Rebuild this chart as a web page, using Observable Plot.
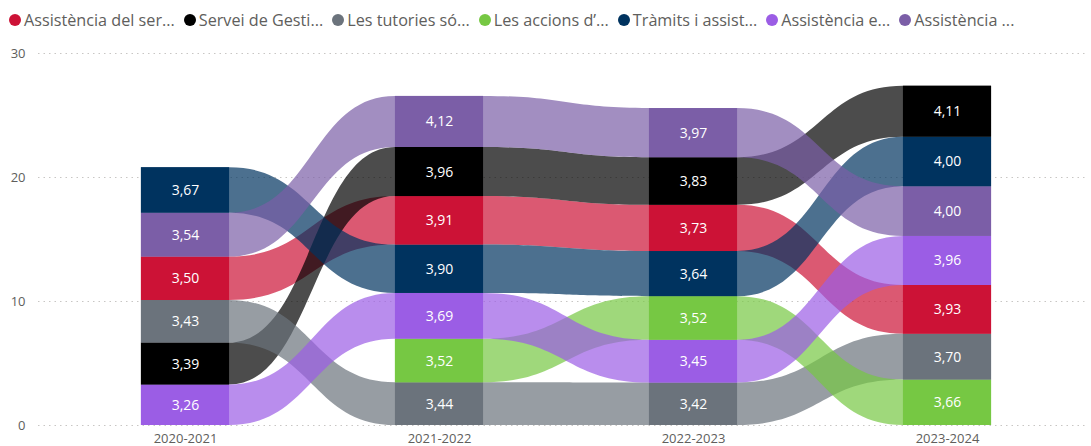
<!DOCTYPE html>
<html>
<head>
<meta charset="utf-8">
<script src="https://cdn.jsdelivr.net/npm/d3@7"></script>
<script src="https://cdn.jsdelivr.net/npm/@observablehq/plot@0.6"></script>
<style>
  html, body { margin: 0; padding: 0; background: #fff; }
  body { width: 1091px; height: 446px; overflow: hidden; font-family: "Segoe UI", "Open Sans", sans-serif; }
  #legend { height: 40px; display: flex; align-items: center; padding-left: 9px; box-sizing: border-box; font-size: 16.2px; color: #605E5C; white-space: nowrap; }
  .item { display: inline-flex; align-items: center; margin-right: 9px; }
  .dot { width: 12px; height: 12px; border-radius: 50%; margin-right: 3px; display: inline-block; }
</style>
</head>
<body>
<div id="legend"></div>
<div id="chart"></div>
<script>
const years = ["2020-2021", "2021-2022", "2022-2023", "2023-2024"];
const seriesNames = ["Assistència del ser...", "Servei de Gesti...", "Les tutories só...", "Les accions d’...", "Tràmits i assist...", "Assistència e...", "Assistència ..."];
const seriesColors = ["#CC1236", "#000000", "#6B737C", "#76C843", "#00335F", "#9B5DE5", "#7B5EA7"];
const assistenciaServei = [3.50, 3.91, 3.73, 3.93];
const serveiGestio = [3.39, 3.96, 3.83, 4.11];
const tutories = [3.43, 3.44, 3.42, 3.70];
const accions = [null, 3.52, 3.52, 3.66];
const tramits = [3.67, 3.90, 3.64, 4.00];
const assistenciaE = [3.26, 3.69, 3.45, 3.96];
const assistencia = [3.54, 4.12, 3.97, 4.00];
const seriesValues = [assistenciaServei, serveiGestio, tutories, accions, tramits, assistenciaE, assistencia];
const yTicks = [0, 10, 20, 30];

// legend
const legend = document.getElementById("legend");
seriesNames.forEach((n, i) => {
  const it = document.createElement("span");
  it.className = "item";
  it.innerHTML = `<span class="dot" style="background:${seriesColors[i]}"></span>${n}`;
  legend.appendChild(it);
});

// stacking: ascending by value, larger on top
const cells = [];
years.forEach((yr, xi) => {
  const present = seriesValues.map((v, si) => ({si, v: v[xi]})).filter(d => d.v != null);
  present.sort((a, b) => a.v - b.v || b.si - a.si);
  let acc = 0;
  present.forEach(d => {
    cells.push({xi, year: yr, si: d.si, name: seriesNames[d.si], v: d.v, y1: acc, y2: acc + d.v});
    acc += d.v;
  });
});

const half = 0.1735;
const ribbonPts = [];
cells.forEach(c => {
  ribbonPts.push({si: c.si, x: c.xi - half, y1: c.y1, y2: c.y2});
  ribbonPts.push({si: c.si, x: c.xi + half, y1: c.y1, y2: c.y2});
});
ribbonPts.sort((a, b) => a.si - b.si || a.x - b.x);

const x0 = -0.5787, x1 = 3.5433;
const chart = Plot.plot({
  width: 1091,
  height: 406,
  marginLeft: 38,
  marginRight: 6,
  marginTop: 13,
  marginBottom: 21,
  style: {fontFamily: "'Segoe UI', 'Open Sans', sans-serif", fontSize: "13px", color: "#605E5C", background: "#fff"},
  x: {domain: [x0, x1], axis: null},
  y: {domain: [0, 30], axis: null},
  color: {domain: d3.range(seriesNames.length), range: seriesColors},
  marks: [
    Plot.ruleY(yTicks, {stroke: "#C8C6C4", strokeDasharray: "1.5,4", strokeWidth: 1}),
    Plot.axisY({ticks: yTicks, tickSize: 0, tickPadding: 13, fontSize: 13, textAnchor: "end"}),
    Plot.axisX({ticks: [0, 1, 2, 3], tickFormat: i => years[i], tickSize: 0, tickPadding: 8, fontSize: 13, anchor: "bottom"}),
    Plot.areaY(ribbonPts, {x: "x", y1: "y1", y2: "y2", z: "si", fill: d => d.si, fillOpacity: 0.7, curve: "bump-x"}),
    Plot.rect(cells, {x1: d => d.xi - half, x2: d => d.xi + half, y1: "y1", y2: "y2", fill: d => d.si}),
    Plot.text(cells, {x: "xi", y: d => (d.y1 + d.y2) / 2, text: d => d.v.toFixed(2).replace(".", ","), fill: "white", fontSize: 14})
  ]
});
document.getElementById("chart").appendChild(chart);
</script>
</body>
</html>
